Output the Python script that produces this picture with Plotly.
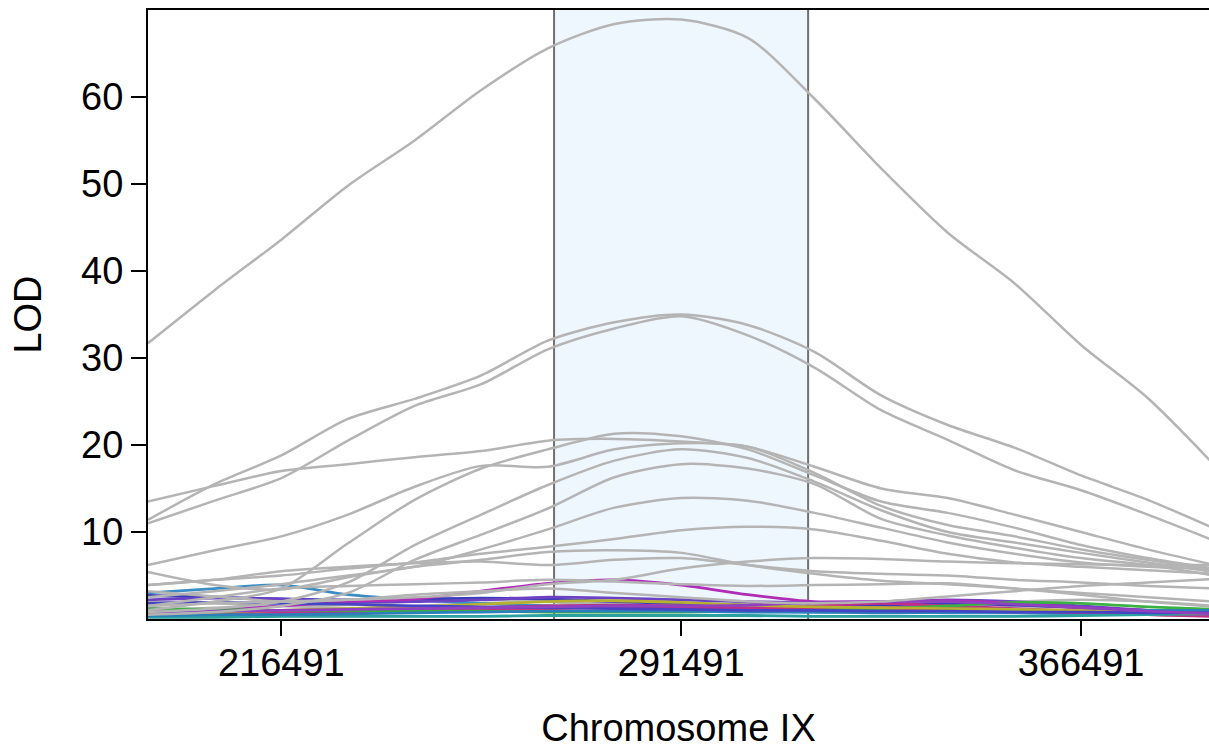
import plotly.graph_objects as go

# positions along Chromosome IX (bp)
positions = [191491, 203991, 216491, 228991, 241491, 253991, 266491, 278991, 291491,
             303991, 316491, 328991, 341491, 353991, 366491, 378991, 391491]

# highlighted interval
region_start = 267650
region_end = 315300

# grey LOD profiles
grey_1 = [31.7, 37.8, 43.6, 49.8, 55.0, 60.8, 65.6, 68.4, 68.9, 66.8, 59.8, 51.8, 44.4, 38.6, 31.5, 25.4, 17.7]
grey_2 = [11.4, 15.5, 18.8, 23.0, 25.3, 28.0, 32.0, 34.1, 35.0, 33.8, 30.7, 25.7, 22.3, 19.7, 16.5, 13.7, 10.4]
grey_3 = [11.0, 13.6, 16.2, 20.5, 24.5, 27.0, 31.0, 33.4, 34.8, 32.6, 28.9, 24.0, 20.6, 17.1, 14.8, 12.0, 9.0]
grey_4 = [13.5, 15.3, 17.0, 17.8, 18.6, 19.3, 20.5, 20.7, 20.4, 19.8, 17.5, 15.0, 13.9, 12.0, 10.0, 8.0, 6.2]
grey_5 = [1.0, 2.0, 3.5, 8.7, 13.7, 17.3, 19.5, 21.3, 21.0, 19.5, 16.5, 13.5, 12.2, 10.5, 8.5, 7.0, 5.8]
grey_6 = [6.2, 7.9, 9.5, 12.0, 15.2, 17.6, 17.5, 19.5, 20.2, 19.8, 16.8, 13.0, 10.8, 9.5, 8.0, 6.8, 5.6]
grey_7 = [0.8, 1.2, 2.0, 4.2, 8.5, 12.0, 15.4, 18.2, 19.5, 18.5, 15.8, 12.5, 10.0, 8.8, 7.6, 6.5, 5.4]
grey_8 = [0.5, 0.8, 1.5, 3.0, 6.8, 9.7, 12.7, 16.3, 17.8, 17.3, 15.5, 11.5, 9.6, 8.2, 7.0, 6.2, 5.0]
grey_9 = [2.5, 3.2, 4.0, 5.0, 6.0, 8.0, 10.3, 12.8, 13.9, 13.6, 12.2, 10.5, 8.8, 7.5, 6.5, 6.0, 5.8]
grey_10 = [3.9, 4.5, 5.0, 5.8, 6.5, 7.5, 8.3, 9.2, 10.2, 10.6, 10.3, 9.0, 7.5, 6.5, 6.0, 5.6, 5.2]
grey_11 = [5.4, 3.9, 3.4, 4.8, 6.0, 6.8, 7.7, 7.9, 7.6, 6.2, 5.2, 4.4, 4.0, 3.5, 3.0, 2.5, 2.0]
grey_12 = [3.9, 4.5, 5.5, 6.0, 6.4, 6.6, 6.2, 6.8, 7.0, 6.2, 5.5, 5.2, 5.0, 4.5, 4.2, 3.8, 3.5]
grey_13 = [1.5, 1.8, 2.0, 2.2, 2.5, 3.0, 4.0, 4.5, 5.8, 6.6, 7.0, 6.9, 6.6, 6.4, 6.3, 6.2, 6.2]
grey_14 = [2.0, 1.8, 1.5, 1.6, 2.0, 2.2, 2.0, 1.8, 1.6, 1.5, 1.4, 1.5, 1.8, 2.0, 2.2, 2.0, 1.5]
grey_15 = [1.0, 1.3, 1.5, 1.2, 1.0, 1.2, 1.6, 2.0, 2.2, 1.9, 1.0, 1.6, 1.8, 1.5, 1.3, 1.0, 0.8]
grey_16 = [3.2, 2.6, 2.0, 2.2, 2.8, 3.2, 3.5, 3.0, 2.5, 2.0, 1.8, 2.0, 2.6, 3.2, 3.8, 4.2, 4.6]
grey_17 = [0.5, 0.8, 1.0, 1.2, 1.5, 1.8, 2.0, 2.0, 1.8, 1.6, 1.5, 1.4, 1.2, 1.0, 0.8, 0.6, 0.5]
grey_18 = [1.5, 2.5, 3.5, 3.8, 4.0, 4.2, 4.5, 4.3, 4.0, 3.8, 3.9, 4.0, 4.1, 3.5, 2.8, 2.0, 1.4]

grey_low = [grey_14, grey_15, grey_17]
grey_high = [grey_1, grey_2, grey_3, grey_4, grey_5, grey_6, grey_7, grey_8, grey_9,
             grey_10, grey_11, grey_12, grey_13, grey_16, grey_18]

# coloured low LOD profiles
col_1 = [3.0, 3.5, 3.9, 2.8, 2.2, 1.8, 1.5, 1.2, 1.0, 0.9, 0.8, 0.8, 0.7, 0.7, 0.6, 0.6, 0.6]
col_2 = [2.7, 2.5, 2.3, 2.2, 2.3, 2.4, 2.3, 2.0, 1.8, 1.6, 1.5, 1.6, 1.8, 1.6, 1.3, 1.0, 0.8]
col_3 = [2.2, 2.4, 2.3, 2.0, 2.0, 2.2, 2.5, 2.4, 2.2, 2.0, 1.9, 2.0, 2.2, 2.0, 1.5, 1.0, 0.6]
col_4 = [0.8, 1.0, 1.5, 2.0, 2.3, 3.2, 4.1, 4.5, 3.9, 2.8, 2.0, 2.0, 2.1, 1.8, 1.3, 1.0, 0.9]
col_5 = [0.5, 0.7, 0.9, 1.0, 1.1, 1.3, 1.5, 1.6, 1.5, 1.3, 1.2, 1.3, 1.4, 1.1, 0.8, 0.5, 0.4]
col_6 = [0.3, 0.4, 0.6, 0.8, 1.0, 1.1, 1.2, 1.3, 1.2, 1.1, 1.0, 1.0, 1.1, 1.0, 0.7, 0.5, 0.3]
col_7 = [1.2, 1.0, 0.8, 0.9, 1.0, 1.2, 1.4, 1.4, 1.3, 1.2, 1.5, 1.8, 1.5, 1.2, 0.9, 0.6, 0.4]
col_8 = [1.2, 1.1, 1.0, 1.0, 0.9, 0.9, 0.8, 0.8, 0.8, 0.9, 1.0, 1.2, 1.5, 1.9, 1.8, 1.4, 1.1]
col_9 = [0.2, 0.2, 0.3, 0.3, 0.3, 0.3, 0.4, 0.4, 0.4, 0.4, 0.3, 0.3, 0.3, 0.3, 0.4, 0.5, 0.6]
col_10 = [0.4, 0.5, 0.5, 0.6, 0.7, 0.8, 0.9, 0.9, 0.9, 0.8, 0.8, 0.7, 0.8, 0.9, 1.0, 1.0, 1.0]
col_11 = [0.6, 0.8, 1.0, 1.2, 1.4, 1.7, 2.0, 2.1, 1.9, 1.6, 1.4, 1.3, 1.2, 1.1, 1.0, 0.8, 0.6]
col_12 = [1.8, 1.9, 1.8, 1.7, 1.5, 1.4, 1.3, 1.2, 1.1, 1.0, 1.0, 0.9, 0.9, 0.8, 0.8, 0.7, 0.7]
col_13 = [0.8, 0.9, 1.0, 1.1, 1.2, 1.3, 1.4, 1.5, 1.5, 1.6, 1.9, 2.0, 2.0, 1.7, 1.3, 0.9, 0.6]

colour_series = [col_1, col_2, col_3, col_4, col_5, col_6, col_7, col_8, col_9,
                 col_10, col_11, col_12, col_13]
colour_names = ["#3a8cc4", "#3c3cb8", "#6b42c4", "#b02cb8", "#b8337a", "#c03a80", "#c0308a",
                "#3cb043", "#2aa0a0", "#2c7fb8", "#b8b030", "#4444c4", "#9040c0"]

x_ticks = [216491, 291491, 366491]
y_ticks = [10, 20, 30, 40, 50, 60]

fig = go.Figure()

grey_line = dict(color="#b4b4b4", width=2.5, shape="spline", smoothing=0.8)

for vals in grey_low:
    fig.add_trace(go.Scatter(x=positions, y=vals, mode="lines", line=grey_line,
                             hoverinfo="skip", showlegend=False))

for vals, c in zip(colour_series, colour_names):
    fig.add_trace(go.Scatter(x=positions, y=vals, mode="lines",
                             line=dict(color=c, width=2.8, shape="spline", smoothing=0.8),
                             hoverinfo="skip", showlegend=False))

for vals in grey_high:
    fig.add_trace(go.Scatter(x=positions, y=vals, mode="lines", line=grey_line,
                             hoverinfo="skip", showlegend=False))

fig.add_shape(type="rect", xref="x", yref="y", x0=region_start, x1=region_end, y0=0, y1=70,
              fillcolor="#eef6fe", line=dict(width=0), layer="below")
for xv in (region_start, region_end):
    fig.add_shape(type="line", xref="x", yref="y", x0=xv, x1=xv, y0=0, y1=70,
                  line=dict(color="#707070", width=2), layer="below")

font_family = "Liberation Sans, Arial, sans-serif"

fig.update_layout(
    width=1209, height=749,
    margin=dict(l=148, r=0, t=10, b=130, autoexpand=False),
    paper_bgcolor="white", plot_bgcolor="white",
    font=dict(family=font_family, size=38, color="black"),
    showlegend=False,
    xaxis=dict(range=[191491, 390491], tickvals=x_ticks, ticktext=[str(v) for v in x_ticks],
               showgrid=False, zeroline=False, showline=True, linecolor="black", linewidth=2,
               mirror=True, ticks="outside", ticklen=15, tickwidth=2, tickcolor="black",
               tickfont=dict(size=38), automargin=False, ticklabelstandoff=-6,
               title=dict(text="Chromosome IX", font=dict(size=38), standoff=34)),
    yaxis=dict(range=[0, 70], tickvals=y_ticks, showgrid=False, zeroline=False,
               showline=True, linecolor="black", linewidth=2, ticks="outside",
               ticklen=15, tickwidth=2, tickcolor="black", tickfont=dict(size=38),
               automargin=False,
               title=dict(text="LOD", font=dict(size=38), standoff=28)),
)

fig.write_html("out.html", config={"displayModeBar": False},
               post_script="document.body.style.margin='0';")
